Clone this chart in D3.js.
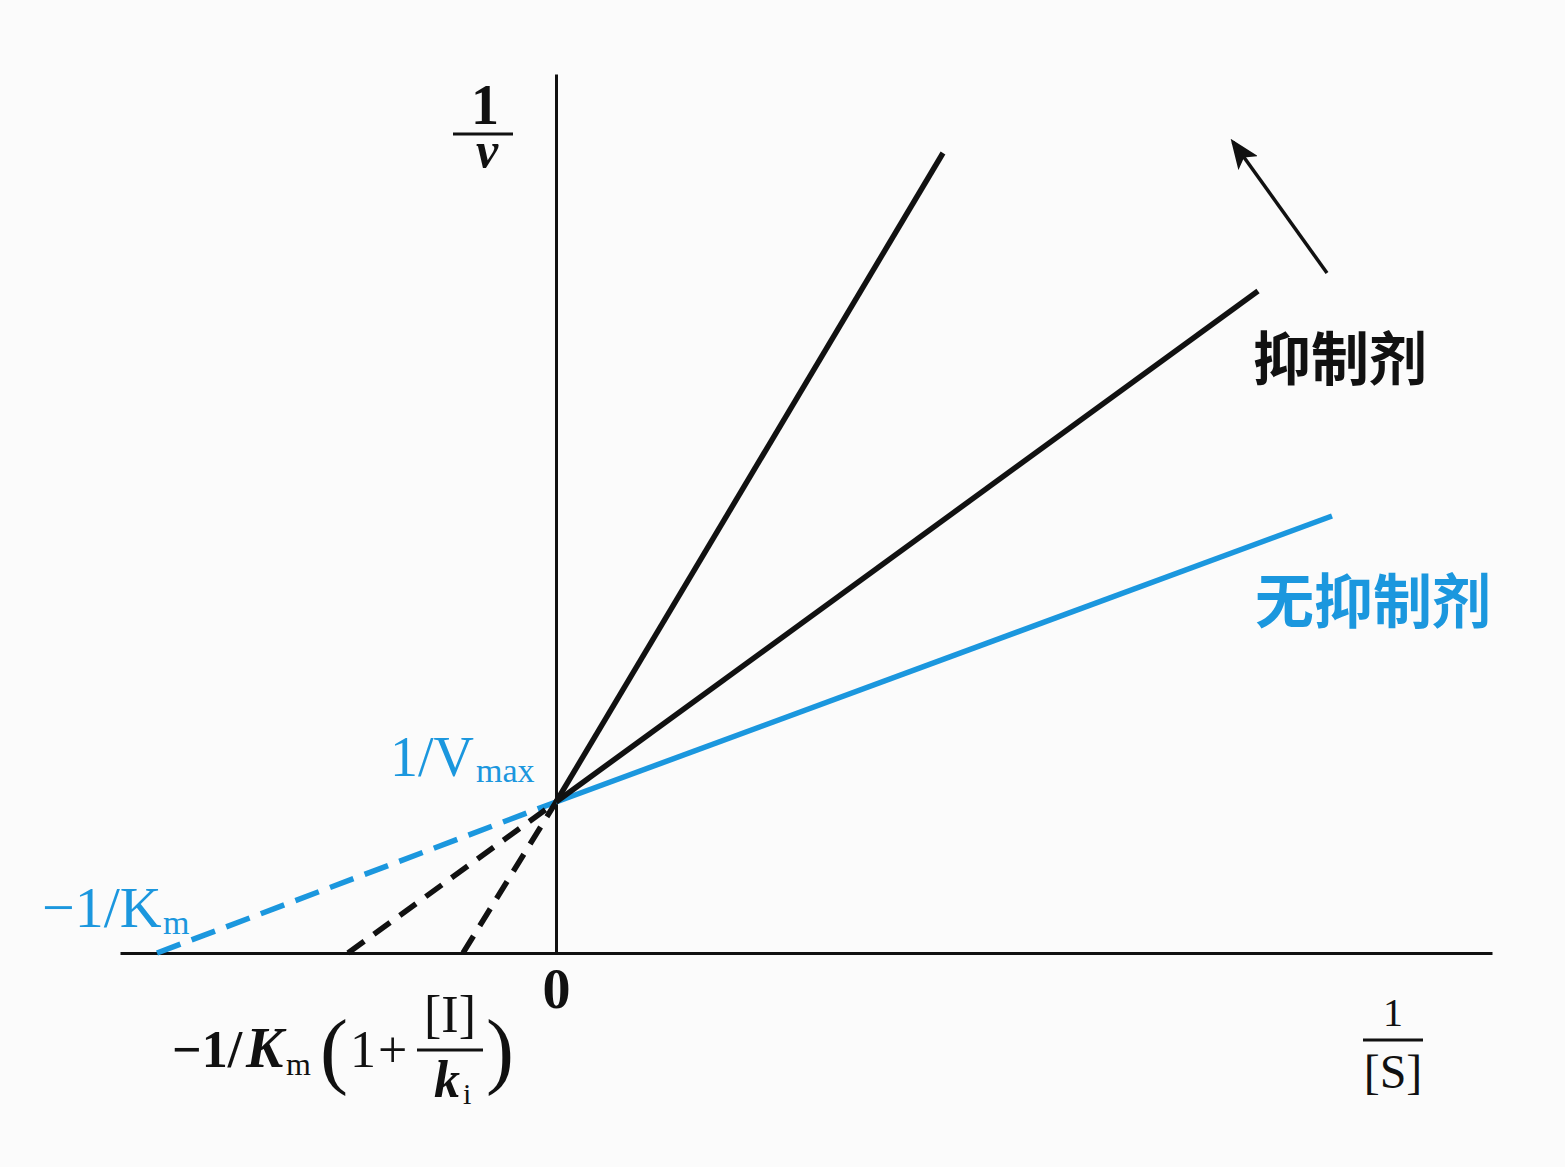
<!DOCTYPE html>
<html>
<head>
<meta charset="utf-8">
<script src="https://cdn.jsdelivr.net/npm/d3@7"></script>
<style>
  html, body { margin: 0; padding: 0; background: #fbfbfb; }
  svg { display: block; }
  .serif { font-family: "Liberation Serif", "DejaVu Serif", serif; }
  .cjk { font-family: "Noto Sans CJK SC", sans-serif; font-weight: 700; }
</style>
</head>
<body>
<div id="plot"></div>
<script>
// Lineweaver-Burk plot, competitive inhibition
// values, in 1/[S] and 1/v units
var xDomain = [-4.36, 9.36];
var yDomain = [0, 8.79];
var invVmax = 1.51;

var lineNames = ["none", "low", "high"];
var lineColors = ["#1b97de", "#111111", "#111111"];
var xIntercepts = [-3.99, -2.08, -0.93];   // -1/Km(app)
var endX = [7.76, 7.02, 3.87];
var endY = [4.37, 6.62, 8.00];

var arrowFrom = [7.71, 6.80];
var arrowTo = [6.77, 8.11];

var seriesLabels = ["无抑制剂", "抑制剂"];
var xTickValues = [0];

var W = 1565, H = 1167;
var blue = lineColors[0];

var svg = d3.select("#plot")
            .append("svg")
            .attr("width", W)
            .attr("height", H);

svg.append("rect").attr("width", W).attr("height", H).attr("fill", "#fbfbfb");

var x = d3.scaleLinear().domain(xDomain).range([120, 1492]);
var y = d3.scaleLinear().domain(yDomain).range([953, 74]);

// arrow head
svg.append("defs")
   .append("marker")
    .attr("id", "head")
    .attr("markerUnits", "userSpaceOnUse")
    .attr("viewBox", "0 -12 30 24")
    .attr("refX", 26)
    .attr("refY", 0)
    .attr("markerWidth", 30)
    .attr("markerHeight", 24)
    .attr("orient", "auto")
   .append("path")
    .attr("d", "M0,-12L30,0L0,12L7,0Z")
    .attr("fill", "#111");

// axes
var xAxis = d3.axisBottom(x)
              .tickValues(xTickValues)
              .tickSizeInner(0)
              .tickSizeOuter(0)
              .tickPadding(15)
              .tickFormat(d3.format("d"));
var gX = svg.append("g")
            .attr("transform", "translate(0," + y(0) + ")")
            .call(xAxis);
gX.select(".domain").attr("stroke", "#111").attr("stroke-width", 3);
gX.selectAll(".tick text")
  .attr("class", "serif")
  .attr("font-size", 56)
  .attr("font-weight", "bold")
  .attr("fill", "#111");

var yAxis = d3.axisLeft(y).tickValues([]).tickSizeOuter(0);
var gY = svg.append("g")
            .attr("transform", "translate(" + x(0) + ",0)")
            .call(yAxis);
gY.select(".domain").attr("stroke", "#111").attr("stroke-width", 3);

// lines: dashed part below the y axis, solid part above
var lines = lineNames.map(function(n, i) {
  return {name: n, color: lineColors[i], x0: xIntercepts[i], x1: endX[i], y1: endY[i]};
});

svg.selectAll("line.ext")
   .data(lines)
   .enter()
   .append("line")
   .attr("class", "ext")
   .attr("x1", function(d){ return x(d.x0); })
   .attr("y1", y(0))
   .attr("x2", x(0))
   .attr("y2", y(invVmax))
   .attr("stroke", function(d){ return d.color; })
   .attr("stroke-width", 5.5)
   .attr("stroke-dasharray", function(d){ return d.name == "none" ? "25,12" : "20,12"; });

svg.selectAll("line.fit")
   .data(lines)
   .enter()
   .append("line")
   .attr("class", "fit")
   .attr("x1", x(0))
   .attr("y1", y(invVmax))
   .attr("x2", function(d){ return x(d.x1); })
   .attr("y2", function(d){ return y(d.y1); })
   .attr("stroke", function(d){ return d.color; })
   .attr("stroke-width", 5.5)
   .attr("stroke-linecap", "butt");

svg.append("line")
   .attr("x1", x(arrowFrom[0]))
   .attr("y1", y(arrowFrom[1]))
   .attr("x2", x(arrowTo[0]))
   .attr("y2", y(arrowTo[1]))
   .attr("stroke", "#111")
   .attr("stroke-width", 3.5)
   .attr("marker-end", "url(#head)");

// little helper for text pieces
function txt(s, px, py, size, opts) {
  opts = opts || {};
  return svg.append("text")
            .attr("class", opts.cls || "serif")
            .attr("x", px)
            .attr("y", py)
            .attr("font-size", size)
            .attr("font-weight", opts.bold ? "bold" : "normal")
            .attr("font-style", opts.italic ? "italic" : "normal")
            .attr("text-anchor", opts.anchor || "start")
            .attr("fill", opts.fill || "#111")
            .text(s);
}
function bar(x1, x2, py) {
  svg.append("line").attr("x1", x1).attr("x2", x2).attr("y1", py).attr("y2", py)
     .attr("stroke", "#111").attr("stroke-width", 3);
}

// y axis title 1/v
var ox = x(0), oy = y(0);
txt("1", ox - 71, 124, 56, {bold: true, anchor: "middle"});
bar(ox - 103, ox - 43, 134);
txt("v", ox - 69, 167, 50, {bold: true, italic: true, anchor: "middle"});

// x axis title 1/[S]
var sx = x(8.37);
txt("1", sx, 1026, 40, {anchor: "middle"});
bar(sx - 30, sx + 30, 1040);
txt("[S]", sx, 1088, 48, {anchor: "middle"});

// 1/Vmax
var vy = y(invVmax);
txt("1/V", 390, vy - 26, 56, {fill: blue});
txt("max", 476, vy - 20, 34, {fill: blue});

// -1/Km
txt("\u22121/K", x(xIntercepts[0]) - 115, oy - 26, 58, {fill: blue});
txt("m", x(xIntercepts[0]) + 6, oy - 19, 34, {fill: blue});

// -1/Km(1+[I]/ki)
txt("\u22121/", 172, 1067, 52, {bold: true});
txt("K", 246, 1067, 56, {bold: true, italic: true});
txt("m", 286, 1075, 32);
txt("(", 320, 1078, 84);
txt("1", 350, 1067, 52);
txt("+", 378, 1067, 52);
txt("[I]", 450, 1032, 52, {anchor: "middle"});
bar(417, 483, 1050);
txt("k", 447, 1097, 52, {bold: true, italic: true, anchor: "middle"});
txt("i", 463, 1104, 30);
txt(")", 486, 1078, 84);

// series labels
txt(seriesLabels[1], 1253, 380, 58, {cls: "cjk"});
txt(seriesLabels[0], 1255, 623, 59, {cls: "cjk", fill: blue});
</script>
</body>
</html>
